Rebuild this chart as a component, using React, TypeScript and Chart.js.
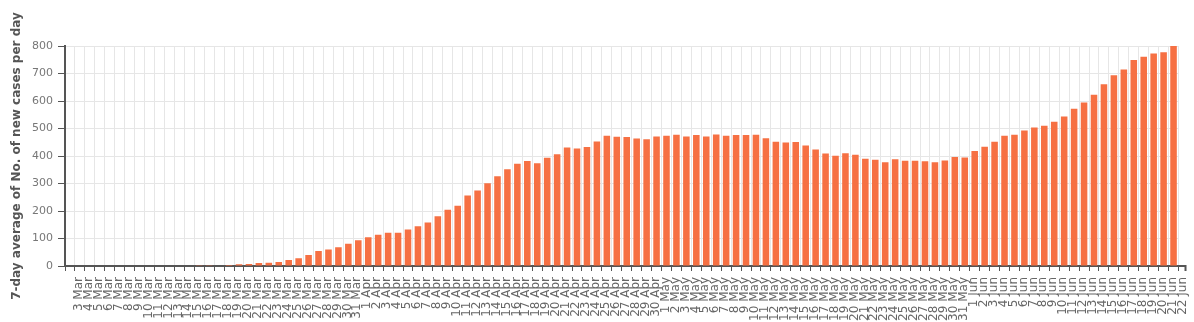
import React, { useEffect, useRef } from "react";
import { Chart, registerables } from "chart.js";

Chart.register(...registerables);

const categories: string[] = [
  "3 Mar", "4 Mar", "5 Mar", "6 Mar", "7 Mar", "8 Mar", "9 Mar", "10 Mar", "11 Mar", "12 Mar",
  "13 Mar", "14 Mar", "15 Mar", "16 Mar", "17 Mar", "18 Mar", "19 Mar", "20 Mar", "21 Mar", "22 Mar",
  "23 Mar", "24 Mar", "25 Mar", "26 Mar", "27 Mar", "28 Mar", "29 Mar", "30 Mar", "31 Mar",
  "1 Apr", "2 Apr", "3 Apr", "4 Apr", "5 Apr", "6 Apr", "7 Apr", "8 Apr", "9 Apr", "10 Apr",
  "11 Apr", "12 Apr", "13 Apr", "14 Apr", "15 Apr", "16 Apr", "17 Apr", "18 Apr", "19 Apr", "20 Apr",
  "21 Apr", "22 Apr", "23 Apr", "24 Apr", "25 Apr", "26 Apr", "27 Apr", "28 Apr", "29 Apr", "30 Apr",
  "1 May", "2 May", "3 May", "4 May", "5 May", "6 May", "7 May", "8 May", "9 May", "10 May",
  "11 May", "12 May", "13 May", "14 May", "15 May", "16 May", "17 May", "18 May", "19 May", "20 May",
  "21 May", "22 May", "23 May", "24 May", "25 May", "26 May", "27 May", "28 May", "29 May", "30 May", "31 May",
  "1 Jun", "2 Jun", "3 Jun", "4 Jun", "5 Jun", "6 Jun", "7 Jun", "8 Jun", "9 Jun", "10 Jun",
  "11 Jun", "12 Jun", "13 Jun", "14 Jun", "15 Jun", "16 Jun", "17 Jun", "18 Jun", "19 Jun", "20 Jun",
  "21 Jun", "22 Jun",
];

const marchValues: number[] = [
  0, 0, 0, 0, 0, 0, 0, 0, 0, 0,
  0, 0, 0, 0.5, 1, 2, 3.5, 6, 7, 11,
  12, 15, 22, 28, 40, 55, 60, 68, 81,
];
const aprilValues: number[] = [
  94, 105, 114, 121, 121, 133, 145, 158, 181, 205,
  219, 256, 275, 301, 326, 352, 372, 382, 374, 394,
  406, 431, 427, 433, 453, 474, 470, 469, 464, 461,
];
const mayValues: number[] = [
  471, 474, 477, 471, 476, 471, 478, 474, 476, 476,
  477, 465, 452, 449, 451, 438, 424, 409, 401, 410,
  405, 390, 386, 377, 388, 383, 383, 381, 377, 384, 396,
];
const juneValues: number[] = [
  395, 418, 434, 452, 474, 477, 493, 504, 510, 525,
  544, 572, 595, 623, 661, 694, 715, 749, 761, 773,
  777, 800,
];
const seriesValues: number[] = [...marchValues, ...aprilValues, ...mayValues, ...juneValues];

const yTicks: number[] = [0, 100, 200, 300, 400, 500, 600, 700, 800];
const yTitle = "7-day average of No. of new cases per day";

const FONT = "'DejaVu Sans', sans-serif";
const AXIS = "#555555";

const extendAxis = {
  id: "extendAxis",
  afterDraw(chart: any) {
    const { ctx, chartArea } = chart;
    ctx.save();
    ctx.strokeStyle = AXIS;
    ctx.lineWidth = 2;
    ctx.beginPath();
    ctx.moveTo(chartArea.right - 1, chartArea.bottom);
    ctx.lineTo(chartArea.right + 8, chartArea.bottom);
    ctx.moveTo(chartArea.right + 7, chartArea.bottom);
    ctx.lineTo(chartArea.right + 7, chartArea.bottom + 5);
    ctx.stroke();
    ctx.restore();
  },
};

export default function App() {
  const ref = useRef<HTMLCanvasElement | null>(null);
  useEffect(() => {
    document.body.style.margin = "0";
    if (!ref.current) return;
    const chart = new Chart(ref.current, {
      type: "bar",
      data: {
        labels: categories,
        datasets: [
          {
            data: seriesValues,
            backgroundColor: "#f67043",
            barPercentage: 0.66,
            categoryPercentage: 1,
          },
        ],
      },
      options: {
        animation: false,
        responsive: false,
        devicePixelRatio: 1,
        layout: { padding: { top: 46, right: 14, left: 0, bottom: 0 } },
        plugins: { legend: { display: false }, tooltip: { enabled: false } },
        scales: {
          x: {
            grid: { color: "#e6e6e6", offset: true, tickColor: AXIS, tickLength: 5 },
            border: { color: AXIS, width: 2 },
            ticks: {
              autoSkip: false,
              minRotation: 90,
              maxRotation: 90,
              color: "#666",
              padding: 6,
              labelOffset: 9,
              font: { family: FONT, size: 12 },
            },
            afterFit: (axis: any) => {
              axis.height = 56;
            },
          },
          y: {
            min: 0,
            max: 800,
            afterBuildTicks: (axis: any) => {
              axis.ticks = yTicks.map((v) => ({ value: v }));
            },
            grid: { color: "#e6e6e6", tickColor: AXIS, tickLength: 7 },
            border: { color: AXIS, width: 2 },
            ticks: {
              color: "#777",
              padding: 5,
              font: { family: FONT, size: 11 },
            },
            title: {
              display: true,
              text: yTitle,
              color: "#555",
              padding: { top: 10, bottom: 0 },
              font: { family: FONT, size: 12, weight: "bold" },
            },
            afterFit: (axis: any) => {
              axis.width = 65;
            },
          },
        },
      },
      plugins: [extendAxis],
    });
    return () => chart.destroy();
  }, []);
  return (
    <div style={{ width: 1194, height: 322 }}>
      <canvas ref={ref} width={1194} height={322} style={{ width: 1194, height: 322, display: "block" }} />
    </div>
  );
}
